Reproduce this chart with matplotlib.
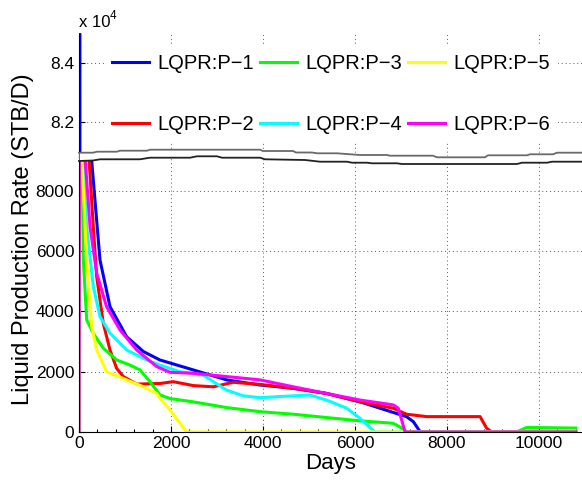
import numpy as np
import matplotlib
matplotlib.use("Agg")
import matplotlib.pyplot as plt
from matplotlib.ticker import MultipleLocator, FixedLocator
from matplotlib.patches import Polygon
from matplotlib.lines import Line2D

plt.rcParams['font.family'] = ['Liberation Sans', 'DejaVu Sans']

# well liquid production rates (STB/D) against time (days)
p1_days = [0, 15, 30, 150, 270, 456, 674, 1036, 1400, 1760, 2485, 3210, 3935, 4660,
           5380, 6110, 6830, 7120, 7270, 7420, 10800]
p1_rate = [0, 85000, 30000, 12000, 9100, 5710, 4160, 3160, 2670, 2390, 2060, 1730, 1560, 1450,
           1280, 1000, 650, 510, 340, 0, 0]

p2_days = [0, 15, 200, 311, 385, 529, 674, 819, 964, 1254, 1760, 2050, 2485, 2920, 3350,
           3935, 4660, 5380, 6110, 6830, 7120, 7560, 8720, 8860, 8970, 10800]
p2_rate = [0, 15000, 9500, 6810, 5150, 3600, 2720, 2110, 1840, 1590, 1610, 1670, 1540, 1500, 1650,
           1580, 1450, 1280, 1000, 790, 590, 510, 510, 130, 0, 0]

p3_days = [0, 15, 94, 167, 311, 529, 819, 1110, 1326, 1543, 1760, 1980, 2485, 3210, 3935,
           4660, 5380, 6110, 6830, 7050, 7120, 9510, 9730, 10800]
p3_rate = [0, 15000, 5700, 3720, 3270, 2780, 2390, 2220, 2060, 1670, 1230, 1110, 1000, 810, 675,
           590, 480, 370, 290, 100, 0, 0, 150, 130]

p4_days = [0, 15, 60, 167, 311, 456, 674, 1037, 1471, 1760, 2195, 2700, 2920, 3210, 3570,
           3935, 4660, 5020, 5380, 5820, 6110, 6430, 10800]
p4_rate = [0, 15000, 10000, 6810, 4830, 3830, 3280, 2720, 2390, 2220, 2000, 1890, 1670, 1390, 1200,
           1140, 1200, 1230, 1060, 790, 450, 0, 0]

p5_days = [0, 15, 50, 167, 276, 385, 600, 1037, 1400, 1690, 1760, 1980, 2087, 2340, 10800]
p5_rate = [0, 15000, 9500, 5700, 3500, 2720, 2000, 1730, 1500, 1280, 1110, 730, 510, 0, 0]

p6_days = [0, 15, 90, 240, 385, 600, 890, 1254, 1690, 1980, 2485, 3210, 3935, 4660, 5380,
           6110, 6830, 6940, 7090, 10800]
p6_rate = [0, 15000, 10000, 6810, 5270, 4160, 3390, 2720, 2170, 1980, 1950, 1840, 1730, 1500, 1280,
           1060, 900, 790, 0, 0]

series = [
    ('LQPR:P\u22121', p1_days, p1_rate, '#0000ff'),
    ('LQPR:P\u22122', p2_days, p2_rate, '#ff0000'),
    ('LQPR:P\u22123', p3_days, p3_rate, '#00ff00'),
    ('LQPR:P\u22124', p4_days, p4_rate, '#00ffff'),
    ('LQPR:P\u22125', p5_days, p5_rate, '#ffff00'),
    ('LQPR:P\u22126', p6_days, p6_rate, '#ff00ff'),
]

W, H = 582, 487
fig = plt.figure(figsize=(W / 100, H / 100), dpi=100)

def px_box(x0, y0, x1, y1):
    return [x0 / W, 1 - y1 / H, (x1 - x0) / W, (y1 - y0) / H]

ax_top = fig.add_axes(px_box(79, 33.5, W, 156))
ax_bot = fig.add_axes(px_box(79, 156, W, 432))

xmax = 10935
for ax in (ax_top, ax_bot):
    for name, d, r, c in series:
        ax.plot(d, r, color=c, lw=2.2, label=name, solid_joinstyle='round')
    ax.set_xlim(0, xmax)
    ax.spines['top'].set_visible(False)
    ax.spines['right'].set_visible(False)
    ax.xaxis.set_major_locator(MultipleLocator(2000))
    ax.grid(True, color='0.35', linestyle=(0, (1, 3)), lw=0.7)
    ax.tick_params(direction='in', labelsize=12.5, length=4, width=0.8)

ax_bot.set_ylim(0, 9160)
ax_bot.yaxis.set_major_locator(FixedLocator([0, 2000, 4000, 6000, 8000]))
ax_bot.xaxis.set_minor_locator(MultipleLocator(400))
ax_bot.tick_params(which='minor', direction='in', length=2.5, width=0.8)
ax_bot.tick_params(axis='x', pad=3)

ax_top.set_ylim(80847, 85000)
ax_top.set_yticks([82000, 84000])
ax_top.set_yticklabels(['8.2', '8.4'])
ax_top.spines['bottom'].set_visible(False)
ax_top.tick_params(axis='x', bottom=False, labelbottom=False)

ax_bot.set_xlabel('Days', fontsize=16, labelpad=1)
fig.text(23 / W, 1 - 239 / H, 'Liquid Production Rate (STB/D)', rotation=90,
         fontsize=17, ha='center', va='center')
fig.text(79 / W, 1 - 27 / H, 'x 10', fontsize=12, ha='left', va='baseline')
fig.text(110 / W, 1 - 19 / H, '4', fontsize=8.5, ha='left', va='baseline')

leg = ax_top.legend(ncol=3, loc='upper left', bbox_to_anchor=(104 / W, 1 - 46 / H),
                    bbox_transform=fig.transFigure, fontsize=14.5, frameon=True,
                    edgecolor='none', facecolor='white', framealpha=1, fancybox=False,
                    borderpad=0.4, borderaxespad=0, handlelength=1.85, handletextpad=0.4,
                    columnspacing=0.3, labelspacing=2.1)
for h in leg.get_lines():
    h.set_linewidth(2.2)

# wavy break band between the two panels (pixel coordinates)
brk_top = [(79, 152.7), (93, 152.7), (97, 151.7), (117, 151.7), (120, 150.7), (147, 150.7),
           (150, 149.7), (260, 149.7), (263, 151), (293, 151), (296, 152.5), (312, 152.5),
           (317, 153.3), (337, 153.3), (360, 155), (387, 155), (390, 155.7), (433, 155.7),
           (437, 157.3), (485, 157.3), (488, 155.3), (527, 155.3), (530, 154.3), (553, 154.3),
           (557, 152.7), (582, 152.7)]
brk_bot = [(79, 161), (93, 160.5), (100, 159.3), (140, 159.3), (150, 157.7), (190, 157.7),
           (197, 156.3), (217, 156.3), (222, 157.7), (260, 157.7), (265, 159.3), (305, 160),
           (320, 161.7), (347, 161.7), (352, 162.7), (367, 162.7), (372, 163.3), (397, 163.3),
           (402, 164), (517, 164), (522, 162.7), (547, 162.7), (552, 161.7), (582, 161.7)]

def to_fig(pts):
    return [(x / W, 1 - y / H) for x, y in pts]

band = to_fig([(79.6, y) for _, y in brk_top[:1]] + brk_top[1:] + brk_bot[::-1][:-1]
              + [(79.6, brk_bot[0][1])])
fig.add_artist(Polygon(band, closed=True, transform=fig.transFigure, facecolor='white',
                       edgecolor='none', zorder=5))
tx, ty = zip(*to_fig(brk_top))
bx, by = zip(*to_fig(brk_bot))
fig.add_artist(Line2D(tx, ty, transform=fig.transFigure, color='#6a6a6a', lw=1.3, zorder=6))
fig.add_artist(Line2D(bx, by, transform=fig.transFigure, color='#222222', lw=1.3, zorder=6))

fig.savefig('out.png', dpi=100)
